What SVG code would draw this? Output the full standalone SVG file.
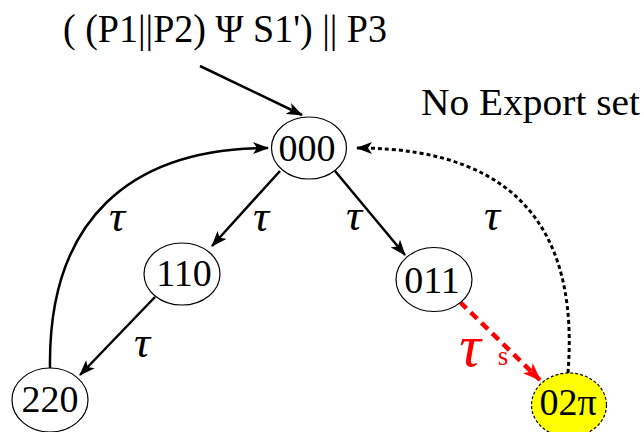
<svg xmlns="http://www.w3.org/2000/svg" width="644" height="432" viewBox="0 0 644 432">
<defs>
<style>
.n{fill:#fff;stroke:#000;stroke-width:1.2}
.t{font-family:"Liberation Serif","Times New Roman",serif;font-size:38px;text-anchor:middle;fill:#000}
.lab{font-family:"Liberation Serif","Times New Roman",serif;font-style:italic;font-size:45px;text-anchor:middle;fill:#000}
.e{fill:none;stroke:#000;stroke-width:2.5}
</style>
<marker id="ah" viewBox="0 0 16 12" refX="15" refY="6" markerWidth="16" markerHeight="12" markerUnits="userSpaceOnUse" orient="auto">
<path d="M0,0 L16,6 L0,12 L4,6 z" fill="#000"/>
</marker>
<marker id="ahr" viewBox="0 0 18 14" refX="17" refY="7" markerWidth="18" markerHeight="14" markerUnits="userSpaceOnUse" orient="auto">
<path d="M0,0 L18,7 L0,14 L5,7 z" fill="#ff0000"/>
</marker>
</defs>
<text x="63" y="42" class="t" style="text-anchor:start;font-size:39px" textLength="324" lengthAdjust="spacingAndGlyphs">( (P1||P2) Ψ S1') || P3</text>
<text x="421" y="115" class="t" style="text-anchor:start;font-size:38px" textLength="219" lengthAdjust="spacingAndGlyphs">No Export set</text>
<g id="edges">
<path class="e" d="M200,66 L302,115" marker-end="url(#ah)"/>
<path class="e" d="M280,171 L212,246" marker-end="url(#ah)"/>
<path class="e" d="M155,297 L80,375" marker-end="url(#ah)"/>
<path class="e" d="M335,171 L405,255" marker-end="url(#ah)"/>
<path class="e" d="M50,368 C48,220 130,148 268,148" marker-end="url(#ah)"/>
<path d="M568,373 C578,245 530,148 357,148" fill="none" stroke="#000" stroke-width="3" stroke-dasharray="4,3" marker-end="url(#ah)"/>
<path d="M460,302 L540,380" fill="none" stroke="#ff0000" stroke-width="4.5" stroke-dasharray="9,6" marker-end="url(#ahr)"/>
<text x="117" y="231" class="lab">τ</text>
<text x="261" y="231" class="lab">τ</text>
<text x="142" y="357" class="lab">τ</text>
<text x="354" y="230" class="lab">τ</text>
<text x="492" y="230" class="lab">τ</text>
<text x="470" y="366" class="lab" style="fill:#ff0000;font-size:60px">τ</text>
<text x="503" y="365" class="t" style="fill:#ff0000;font-size:27px">s</text>
</g>
<g id="n000"><ellipse class="n" cx="309" cy="148" rx="37.5" ry="31"/><text x="307" y="161" class="t">000</text></g>
<g id="n110"><ellipse class="n" cx="182" cy="274" rx="38" ry="31"/><text x="184" y="286" class="t">110</text></g>
<g id="n220"><ellipse class="n" cx="50" cy="400" rx="38" ry="32"/><text x="50" y="412" class="t">220</text></g>
<g id="n011"><ellipse class="n" cx="434" cy="279.5" rx="38" ry="32"/><text x="432" y="293" class="t">011</text></g>
<g id="n02p"><ellipse cx="569" cy="405" rx="37.5" ry="32" fill="#ffff00" stroke="#000" stroke-width="1.2" stroke-dasharray="3,2"/><text x="568" y="415" class="t">02π</text></g>
</svg>
